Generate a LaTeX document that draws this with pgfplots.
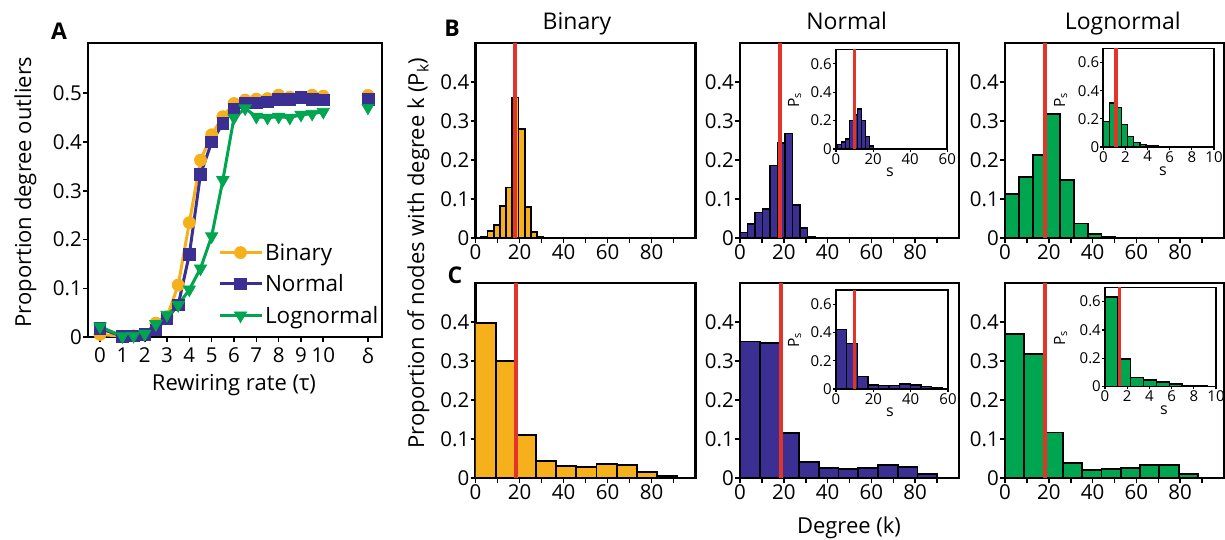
\documentclass[border=0pt]{standalone}
\usepackage{fontspec}
\setmainfont{Open Sans}
\usepackage{pgfplots}
\pgfplotsset{compat=1.18}
\definecolor{binc}{HTML}{F5B01B}
\definecolor{norc}{HTML}{3B2F94}
\definecolor{logc}{HTML}{00A550}
\definecolor{redc}{HTML}{E3342A}

\pgfplotsset{
  mainax/.style={scale only axis, axis line style={line width=2.2pt},
    tick style={line width=1.6pt, black}, tick align=outside, major tick length=5pt,
    xtick pos=bottom, ytick pos=left,
    ticklabel style={font=\fontsize{20.5}{23}\selectfont, inner sep=1pt},
    /pgf/number format/assume math mode=true},
  histax/.style={mainax, width=220pt, height=195.5pt,
    xmin=0, xmax=100, ymin=0, ymax=0.5,
    xtick={0,10,20,30,40,50,60,70,80,90}, xticklabels={0,,20,,40,,60,,80,},
    ytick={0,0.1,0.2,0.3,0.4}, yticklabels={0,0.1,0.2,0.3,0.4}},
  insax/.style={scale only axis, axis background/.style={fill=white},
    axis line style={line width=1.8pt},
    tick style={line width=1.2pt, black}, tick align=outside, major tick length=3pt,
    xtick pos=bottom, ytick pos=left,
    ticklabel style={font=\fontsize{15}{16}\selectfont, inner sep=1pt},
    ymin=0, ymax=0.7, ytick={0,0.2,0.4,0.6}, yticklabels={0,0.2,0.4,0.6}},
  hb/.style={ybar interval, draw=black, line width=1.8pt, fill=#1},
  redl/.style={draw=redc, line width=4pt},
  redi/.style={draw=redc, line width=3.2pt},
}

\begin{document}
\begin{tikzpicture}

% ---------- A ----------
\begin{axis}[mainax, at={(88pt,202.7pt)}, anchor=south west,
  width=294pt, height=294.3pt,
  xmin=-0.54, xmax=12.63, ymin=0, ymax=0.603,
  xtick={0,1,2,3,4,5,6,7,8,9,10,12},
  xticklabels={0,1,2,3,4,5,6,7,8,9,10,δ},
  xticklabel style={inner sep=5pt},
  ytick={0,0.1,0.2,0.3,0.4,0.5}, yticklabels={0,0.1,0.2,0.3,0.4,0.5},
  legend style={draw=none, fill=none, at={(0.995,0.035)}, anchor=south east,
    font=\fontsize{22.5}{24}\selectfont, row sep=9pt, inner sep=0pt},
  legend cell align=left,
  legend image code/.code={\draw[mark repeat=2, mark phase=2, #1]
    plot coordinates {(0pt,0pt) (21pt,0pt) (42pt,0pt)};},
]
\addplot[color=binc, line width=3pt, mark=*, mark size=6pt, mark options={line width=0.8pt}] coordinates {
 (0,0.006) (1,0.002) (1.5,0.003) (2,0.005) (2.5,0.029) (3,0.042) (3.5,0.107)
 (4,0.235) (4.5,0.363) (5,0.415) (5.5,0.452) (6,0.479) (6.5,0.486) (7,0.488)
 (7.5,0.489) (8,0.496) (8.5,0.492) (9,0.492) (9.5,0.496) (10,0.494)};
\addplot[color=norc, line width=3pt, mark=square*, mark size=5.8pt, mark options={line width=0.8pt}] coordinates {
 (0,0.018) (1,0.002) (1.5,0.003) (2,0.006) (2.5,0.015) (3,0.039) (3.5,0.066)
 (4,0.17) (4.5,0.334) (5,0.4) (5.5,0.438) (6,0.467) (6.5,0.48) (7,0.48)
 (7.5,0.482) (8,0.488) (8.5,0.488) (9,0.491) (9.5,0.487) (10,0.486)};
\addplot[color=logc, line width=3pt, mark=triangle*, mark size=7pt,
  mark options={rotate=180, line width=0.8pt}] coordinates {
 (0,0.022) (1,0.002) (1.5,0.003) (2,0.007) (2.5,0.027) (3,0.046) (3.5,0.066)
 (4,0.098) (4.5,0.141) (5,0.207) (5.5,0.322) (6,0.45) (6.5,0.469) (7,0.452)
 (7.5,0.45) (8,0.452) (8.5,0.45) (9,0.456) (9.5,0.458) (10,0.462)};
\legend{Binary,Normal,Lognormal}
\addplot[forget plot, only marks, color=binc, mark=*, mark size=6pt] coordinates {(12,0.496)};
\addplot[forget plot, only marks, color=norc, mark=square*, mark size=5.8pt] coordinates {(12,0.488)};
\addplot[forget plot, only marks, color=logc, mark=triangle*, mark size=7pt,
  mark options={rotate=180}] coordinates {(12,0.47)};
\end{axis}

% ---------- B ----------
\begin{axis}[histax, at={(475.5pt,301.7pt)}, anchor=south west]
\addplot[hb=binc] coordinates {(2.6,0.003) (5.43,0.018) (8.26,0.035) (11.09,0.083)
 (13.92,0.13) (16.75,0.36) (19.58,0.28) (22.41,0.08) (25.24,0.017) (28.07,0.003) (30.9,0)};
\addplot[redl] coordinates {(17.8,0) (17.8,0.5)};
\end{axis}

\begin{axis}[histax, at={(740pt,301.7pt)}, anchor=south west, width=219pt]
\addplot[hb=norc] coordinates {(0,0.015) (3.42,0.037) (6.84,0.066) (10.26,0.074)
 (13.68,0.186) (17.1,0.244) (20.52,0.268) (23.94,0.085) (27.36,0.026) (30.78,0.003) (34.2,0)};
\addplot[redl] coordinates {(18.2,0) (18.2,0.5)};
\end{axis}

\begin{axis}[histax, at={(1005pt,301.7pt)}, anchor=south west, width=219pt]
\addplot[hb=logc] coordinates {(0,0.113) (6.3,0.157) (12.6,0.213) (18.9,0.317)
 (25.2,0.149) (31.5,0.038) (37.8,0.01) (44.1,0.004) (50.4,0.002) (56.7,0.001) (63,0)};
\addplot[redl] coordinates {(18.3,0) (18.3,0.5)};
\end{axis}

% insets B
\begin{axis}[insax, at={(836pt,391pt)}, anchor=south west, width=111.3pt, height=99.5pt,
  xmin=0, xmax=60, xtick={0,20,40,60}, xticklabels={0,20,40,60}]
\addplot[hb=norc, line width=1.4pt] coordinates {(0.72,0.03) (2.87,0.05) (5.03,0.07)
 (7.18,0.2) (9.34,0.24) (11.49,0.28) (13.64,0.2) (15.8,0.087) (17.95,0.02) (20.1,0)};
\addplot[redi] coordinates {(10.1,0) (10.1,0.7)};
\end{axis}

\begin{axis}[insax, at={(1103.3pt,393pt)}, anchor=south west, width=110.7pt, height=98.5pt,
  xmin=0, xmax=10, xtick={0,2,4,6,8,10}, xticklabels={0,2,4,6,8,10}]
\addplot[hb=logc, line width=1.4pt] coordinates {(0,0.183) (0.55,0.314) (1.1,0.279)
 (1.65,0.16) (2.2,0.076) (2.75,0.033) (3.3,0.017) (3.85,0.01) (4.4,0.007) (4.95,0.005) (5.5,0)};
\addplot[redi] coordinates {(1.15,0) (1.15,0.7)};
\end{axis}

% ---------- C ----------
\begin{axis}[histax, at={(475.5pt,61.7pt)}, anchor=south west]
\addplot[hb=binc] coordinates {(0,0.398) (9.17,0.30) (18.34,0.11) (27.51,0.045)
 (36.68,0.031) (45.85,0.029) (55.02,0.037) (64.19,0.034) (73.36,0.016) (82.53,0.005) (91.7,0)};
\addplot[redl] coordinates {(18.2,0) (18.2,0.5)};
\end{axis}

\begin{axis}[histax, at={(740pt,61.7pt)}, anchor=south west, width=219pt]
\addplot[hb=norc] coordinates {(0,0.35) (9,0.347) (18,0.115) (27,0.042) (36,0.027)
 (45,0.023) (54,0.027) (63,0.033) (72,0.028) (81,0.01) (90,0)};
\addplot[redl] coordinates {(18.6,0) (18.6,0.5)};
\end{axis}

\begin{axis}[histax, at={(1005pt,61.7pt)}, anchor=south west, width=219pt]
\addplot[hb=logc] coordinates {(0,0.37) (8.81,0.317) (17.62,0.117) (26.43,0.04)
 (35.24,0.022) (44.05,0.024) (52.86,0.027) (61.67,0.035) (70.48,0.035) (79.29,0.01) (88.1,0)};
\addplot[redl] coordinates {(18.3,0) (18.3,0.5)};
\end{axis}

% insets C
\begin{axis}[insax, at={(836pt,151pt)}, anchor=south west, width=112pt, height=99pt,
  xmin=0, xmax=60, xtick={0,20,40,60}, xticklabels={0,20,40,60}]
\addplot[hb=norc, line width=1.4pt] coordinates {(0,0.422) (5.68,0.323) (11.36,0.087)
 (17.04,0.028) (22.72,0.024) (28.4,0.024) (34.08,0.035) (39.76,0.028) (45.44,0.016) (51.12,0.007) (56.8,0)};
\addplot[redi] coordinates {(10.1,0) (10.1,0.7)};
\end{axis}

\begin{axis}[insax, at={(1105pt,153.5pt)}, anchor=south west, width=111pt, height=99pt,
  xmin=0, xmax=10, xtick={0,2,4,6,8,10}, xticklabels={0,2,4,6,8,10}]
\addplot[hb=logc, line width=1.4pt] coordinates {(0,0.632) (1.157,0.193) (2.314,0.064)
 (3.471,0.047) (4.628,0.033) (5.785,0.019) (6.942,0.009) (8.099,0.005) (9.256,0.002) (10.413,0)};
\addplot[redi] coordinates {(1.33,0) (1.33,0.7)};
\end{axis}

% ---------- text ----------
\node[font=\bfseries\fontsize{23}{25}\selectfont] at (59pt,508.5pt) {A};
\node[font=\bfseries\fontsize{23}{25}\selectfont] at (452pt,511.5pt) {B};
\node[font=\bfseries\fontsize{23}{25}\selectfont] at (455pt,264.5pt) {C};

\node[anchor=base, font=\fontsize{23}{25}\selectfont] at (577pt,510pt) {Binary};
\node[anchor=base, font=\fontsize{23}{25}\selectfont] at (846.7pt,510pt) {Normal};
\node[anchor=base, font=\fontsize{23}{25}\selectfont] at (1122.8pt,510pt) {Lognormal};

\node[anchor=base, font=\fontsize{22}{24}\selectfont] at (234pt,149.3pt) {Rewiring rate (τ)};
\node[anchor=base, rotate=90, font=\fontsize{22}{24}\selectfont] at (31pt,348pt) {Proportion degree outliers};
\node[anchor=base, rotate=90, font=\fontsize{22}{24}\selectfont] at (424pt,287pt) {Proportion of nodes with degree k (P\textsubscript{k})};
\node[anchor=base, font=\fontsize{22}{24}\selectfont] at (849pt,6pt) {Degree (k)};

\node[anchor=base, rotate=90, font=\fontsize{15.5}{16}\selectfont] at (799pt,440pt) {P\textsubscript{s}};
\node[anchor=base, font=\fontsize{16}{17}\selectfont] at (890pt,363pt) {s};
\node[anchor=base, rotate=90, font=\fontsize{15.5}{16}\selectfont] at (1065pt,440pt) {P\textsubscript{s}};
\node[anchor=base, font=\fontsize{16}{17}\selectfont] at (1163pt,364.5pt) {s};
\node[anchor=base, rotate=90, font=\fontsize{15.5}{16}\selectfont] at (799pt,200pt) {P\textsubscript{s}};
\node[anchor=base, font=\fontsize{16}{17}\selectfont] at (890pt,123pt) {s};
\node[anchor=base, rotate=90, font=\fontsize{15.5}{16}\selectfont] at (1065pt,202pt) {P\textsubscript{s}};
\node[anchor=base, font=\fontsize{16}{17}\selectfont] at (1164pt,125.5pt) {s};

\pgfresetboundingbox
\path[use as bounding box] (0pt,0pt) rectangle (1225pt,540pt);
\end{tikzpicture}
\end{document}
